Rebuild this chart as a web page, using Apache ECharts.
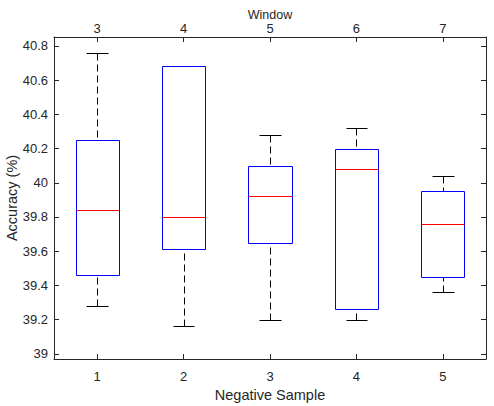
<!DOCTYPE html>
<html>
<head>
<meta charset="utf-8">
<script src="https://cdn.jsdelivr.net/npm/echarts@6/dist/echarts.min.js"></script>
<style>html,body{margin:0;padding:0;background:#fff}#c{width:494px;height:406px}</style>
</head>
<body>
<div id="c"></div>
<script>
const negativeSamples = ['1', '2', '3', '4', '5'];
const windows = ['3', '4', '5', '6', '7'];
const whiskerLow  = [39.28, 39.16, 39.20, 39.20, 39.36];
const quartile1   = [39.46, 39.61, 39.65, 39.26, 39.45];
const medians     = [39.84, 39.80, 39.92, 40.08, 39.76];
const quartile3   = [40.25, 40.68, 40.10, 40.20, 39.95];
const whiskerHigh = [40.76, 40.68, 40.28, 40.32, 40.04];

const boxData = negativeSamples.map((c, i) =>
  [i, whiskerLow[i], quartile1[i], medians[i], quartile3[i], whiskerHigh[i]]);

const FONT = 'Liberation Sans, Arial, sans-serif';
const TXT = '#262626';
const AX = '#262626';

const px = v => Math.round(v) + 0.5;

function renderBox(params, api) {
  const i = api.value(0);
  const lo = api.coord([i, api.value(1)]);
  const q1 = api.coord([i, api.value(2)]);
  const md = api.coord([i, api.value(3)]);
  const q3 = api.coord([i, api.value(4)]);
  const hi = api.coord([i, api.value(5)]);
  const band = api.size([1, 0])[0];
  const bw = band * 0.5;
  const cw = band * 0.25;
  const x = px(lo[0]);
  const yLo = px(lo[1]), yQ1 = px(q1[1]), yMd = px(md[1]), yQ3 = px(q3[1]), yHi = px(hi[1]);
  const xl = px(lo[0] - bw / 2), xr = px(lo[0] + bw / 2);
  const cl = px(lo[0] - cw / 2), cr = px(lo[0] + cw / 2);
  const children = [];
  const mk = (pts, stroke, dash, z2) => ({
    type: 'polyline', z2: z2, silent: true,
    shape: {points: pts},
    style: {stroke: stroke, lineWidth: 1, lineDash: dash, fill: null},
    emphasis: {disabled: true}
  });
  if (yHi < yQ3) {
    children.push(mk([[x, yHi], [x, yQ3]], '#000000', [7, 4], 1));
    children.push(mk([[cl, yHi], [cr, yHi]], '#000000', null, 1));
  }
  if (yLo > yQ1) {
    children.push(mk([[x, yLo], [x, yQ1]], '#000000', [7, 4], 1));
    children.push(mk([[cl, yLo], [cr, yLo]], '#000000', null, 1));
  }
  children.push(mk([[xl, yQ3], [xr, yQ3], [xr, yQ1], [xl, yQ1], [xl, yQ3]], '#0000ff', null, 2));
  children.push(mk([[xl, yMd], [xr, yMd]], '#ff0000', null, 3));
  return {type: 'group', silent: true, children: children};
}

function yLabel(v) {
  if (Math.abs(v * 5 - Math.round(v * 5)) > 1e-6) return '';
  return String(Math.round(v * 10) / 10);
}

const chart = echarts.init(document.getElementById('c'), null, {renderer: 'svg'});
chart.setOption({
  animation: false,
  backgroundColor: '#fff',
  grid: {left: 54, right: 8, top: 37, bottom: 47, containLabel: false, outerBoundsMode: 'none'},
  xAxis: [
    {
      type: 'category', data: negativeSamples, position: 'bottom', boundaryGap: true,
      name: 'Negative Sample', nameLocation: 'middle', nameGap: 28, nameMoveOverlap: false,
      nameTextStyle: {fontFamily: FONT, fontSize: 14.5, color: TXT},
      axisLine: {show: true, lineStyle: {color: AX, width: 1}},
      axisTick: {show: true, inside: true, length: 5, alignWithLabel: true, lineStyle: {color: AX}},
      axisLabel: {fontFamily: FONT, fontSize: 13, color: TXT, margin: 11},
      splitLine: {show: false}
    },
    {
      type: 'category', data: windows, position: 'top', boundaryGap: true,
      name: 'Window', nameLocation: 'middle', nameGap: 16, nameMoveOverlap: false,
      nameTextStyle: {fontFamily: FONT, fontSize: 12.5, color: TXT},
      axisLine: {show: true, lineStyle: {color: AX, width: 1}},
      axisTick: {show: true, inside: true, length: 5, alignWithLabel: true, lineStyle: {color: AX}},
      axisLabel: {fontFamily: FONT, fontSize: 13, color: TXT, margin: 2},
      splitLine: {show: false}
    }
  ],
  yAxis: [
    {
      type: 'value', position: 'left', min: 38.97, max: 40.852, splitNumber: 9,
      name: 'Accuracy (%)', nameLocation: 'middle', nameGap: 35, nameMoveOverlap: false,
      nameTextStyle: {fontFamily: FONT, fontSize: 14.5, color: TXT},
      axisLine: {show: true, lineStyle: {color: AX, width: 1}},
      axisTick: {show: true, inside: true, length: 5, lineStyle: {color: AX}},
      axisLabel: {fontFamily: FONT, fontSize: 13, color: TXT, margin: 6, formatter: yLabel,
        showMinLabel: false, showMaxLabel: false},
      splitLine: {show: false}
    },
    {
      type: 'value', position: 'right', min: 38.97, max: 40.852, splitNumber: 9,
      axisLine: {show: true, lineStyle: {color: AX, width: 1}},
      axisTick: {show: true, inside: true, length: 5, lineStyle: {color: AX}},
      axisLabel: {show: false},
      splitLine: {show: false}
    }
  ],
  series: [{
    type: 'custom',
    silent: true,
    emphasis: {disabled: true},
    xAxisIndex: 0, yAxisIndex: 0,
    renderItem: renderBox,
    encode: {x: 0, y: [1, 2, 3, 4, 5]},
    data: boxData,
    clip: false
  }]
});
</script>
</body>
</html>
